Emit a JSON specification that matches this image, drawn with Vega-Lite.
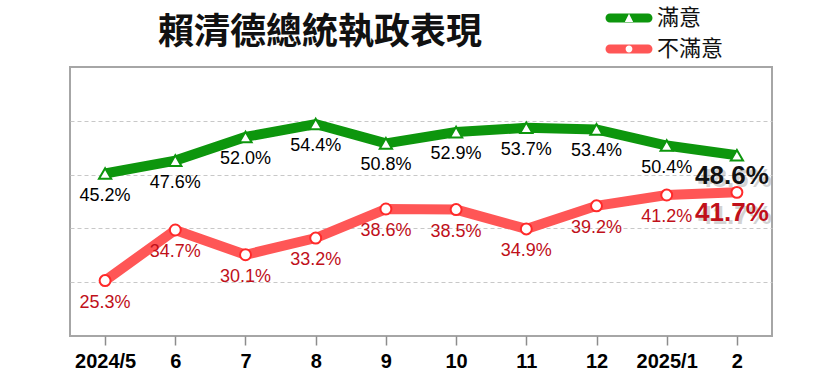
{
  "$schema": "https://vega.github.io/schema/vega-lite/v6.json",
  "width": 702,
  "height": 269,
  "autosize": "none",
  "padding": {"left": 70, "top": 67, "right": 68, "bottom": 50},
  "background": "white",
  "config": {
    "view": {"stroke": "#a6a6a6", "strokeWidth": 2},
    "font": "Liberation Sans"
  },
  "title": {
    "text": "賴清德總統執政表現",
    "font": "Noto Sans CJK TC",
    "fontSize": 36,
    "fontWeight": "bold",
    "color": "#111111",
    "anchor": "start",
    "dx": 88,
    "offset": 14,
    "dy": 59
  },
  "data": {
    "values": [
      {"month": "2024/5", "series": "滿意", "value": 0.452},
      {"month": "6", "series": "滿意", "value": 0.476},
      {"month": "7", "series": "滿意", "value": 0.520},
      {"month": "8", "series": "滿意", "value": 0.544},
      {"month": "9", "series": "滿意", "value": 0.508},
      {"month": "10", "series": "滿意", "value": 0.529},
      {"month": "11", "series": "滿意", "value": 0.537},
      {"month": "12", "series": "滿意", "value": 0.534},
      {"month": "2025/1", "series": "滿意", "value": 0.504},
      {"month": "2", "series": "滿意", "value": 0.486},
      {"month": "2024/5", "series": "不滿意", "value": 0.253},
      {"month": "6", "series": "不滿意", "value": 0.347},
      {"month": "7", "series": "不滿意", "value": 0.301},
      {"month": "8", "series": "不滿意", "value": 0.332},
      {"month": "9", "series": "不滿意", "value": 0.386},
      {"month": "10", "series": "不滿意", "value": 0.385},
      {"month": "11", "series": "不滿意", "value": 0.349},
      {"month": "12", "series": "不滿意", "value": 0.392},
      {"month": "2025/1", "series": "不滿意", "value": 0.412},
      {"month": "2", "series": "不滿意", "value": 0.417}
    ]
  },
  "encoding": {
    "x": {
      "field": "month",
      "type": "ordinal",
      "sort": ["2024/5", "6", "7", "8", "9", "10", "11", "12", "2025/1", "2"],
      "scale": {"type": "point", "padding": 0.5},
      "axis": {
        "title": null,
        "domain": false,
        "ticks": true,
        "tickColor": "#8c8c8c",
        "tickSize": 9,
        "tickWidth": 1.5,
        "labelAngle": 0,
        "labelFont": "Liberation Sans",
        "labelFontSize": 20,
        "labelFontWeight": "bold",
        "labelColor": "#000000",
        "labelPadding": 6
      }
    },
    "y": {
      "field": "value",
      "type": "quantitative",
      "scale": {"domain": [0.15, 0.65], "nice": false, "zero": false},
      "axis": {
        "title": null,
        "domain": false,
        "ticks": false,
        "labels": false,
        "grid": true,
        "values": [0.25, 0.35, 0.45, 0.55],
        "gridColor": "#c8c8c8",
        "gridDash": [4, 3],
        "gridWidth": 1
      }
    }
  },
  "layer": [
    {
      "mark": {"type": "line", "strokeWidth": 10},
      "encoding": {
        "color": {
          "field": "series",
          "type": "nominal",
          "scale": {"domain": ["滿意", "不滿意"], "range": ["#0d960d", "#ff5656"]},
          "legend": {
            "title": null,
            "orient": "none",
            "legendX": 548,
            "legendY": -60,
            "symbolSize": 400,
            "symbolType": "M-1.9,-0.45 H1.9 A0.45,0.45 0 0,1 1.9,0.45 H-1.9 A0.45,0.45 0 0,1 -1.9,-0.45 Z",
            "symbolStrokeWidth": 0,
            "labelFont": "Noto Sans CJK TC",
            "labelFontSize": 22,
            "labelColor": "#111111",
            "labelOffset": 17,
            "rowPadding": 9,
            "padding": 0,
            "encode": {
              "symbols": {
                "update": {
                  "shape": {"signal": "datum.value === '滿意' ? 'M-1.9,-0.45 H1.9 A0.45,0.45 0 0,1 1.9,0.45 H-1.9 A0.45,0.45 0 0,1 -1.9,-0.45 Z M0,-0.42 L-0.42,0.4 L0.42,0.4 Z' : 'M-1.9,-0.45 H1.9 A0.45,0.45 0 0,1 1.9,0.45 H-1.9 A0.45,0.45 0 0,1 -1.9,-0.45 Z M0.34,0 A0.34,0.34 0 1,0 -0.34,0 A0.34,0.34 0 1,0 0.34,0 Z'"},
                  "fill": {"signal": "datum.value === '滿意' ? '#0d960d' : '#ff5656'"},
                  "fillOpacity": {"value": 1},
                  "strokeWidth": {"value": 0},
                  "opacity": {"value": 1}
                }
              }
            }
          }
        },
        "detail": {"field": "series"}
      }
    },
    {
      "mark": {"type": "point", "filled": true, "fill": "white", "strokeWidth": 2, "opacity": 1},
      "encoding": {
        "shape": {
          "field": "series",
          "type": "nominal",
          "scale": {"domain": ["滿意", "不滿意"], "range": ["triangle-up", "circle"]},
          "legend": null
        },
        "stroke": {
          "field": "series",
          "type": "nominal",
          "scale": {"domain": ["滿意", "不滿意"], "range": ["#0d960d", "#ff2a2a"]},
          "legend": null
        },
        "size": {
          "field": "series",
          "type": "nominal",
          "scale": {"domain": ["滿意", "不滿意"], "range": [150, 120]},
          "legend": null
        }
      }
    },
    {
      "transform": [{"filter": "datum.month !== '2'"}],
      "mark": {"type": "text", "dy": 22, "fontSize": 18, "font": "Liberation Sans", "baseline": "middle"},
      "encoding": {
        "text": {"field": "value", "type": "quantitative", "format": ".1%"},
        "color": {
          "field": "series",
          "type": "nominal",
          "scale": {"domain": ["滿意", "不滿意"], "range": ["#000000", "#c0101a"]},
          "legend": null
        }
      }
    },
    {
      "transform": [{"filter": "datum.month === '2'"}],
      "mark": {"type": "text", "dy": 24, "dx": -2, "fontSize": 26, "fontWeight": "bold", "font": "Liberation Sans", "baseline": "middle", "color": "#a8a8a8", "opacity": 0.5},
      "encoding": {
        "text": {"field": "value", "type": "quantitative", "format": ".1%"}
      }
    },
    {
      "transform": [{"filter": "datum.month === '2'"}],
      "mark": {"type": "text", "dy": 21, "dx": -5, "fontSize": 26, "fontWeight": "bold", "font": "Liberation Sans", "baseline": "middle"},
      "encoding": {
        "text": {"field": "value", "type": "quantitative", "format": ".1%"},
        "color": {
          "field": "series",
          "type": "nominal",
          "scale": {"domain": ["滿意", "不滿意"], "range": ["#111111", "#c0101a"]},
          "legend": null
        }
      }
    }
  ],
  "resolve": {"scale": {"color": "independent"}}
}
